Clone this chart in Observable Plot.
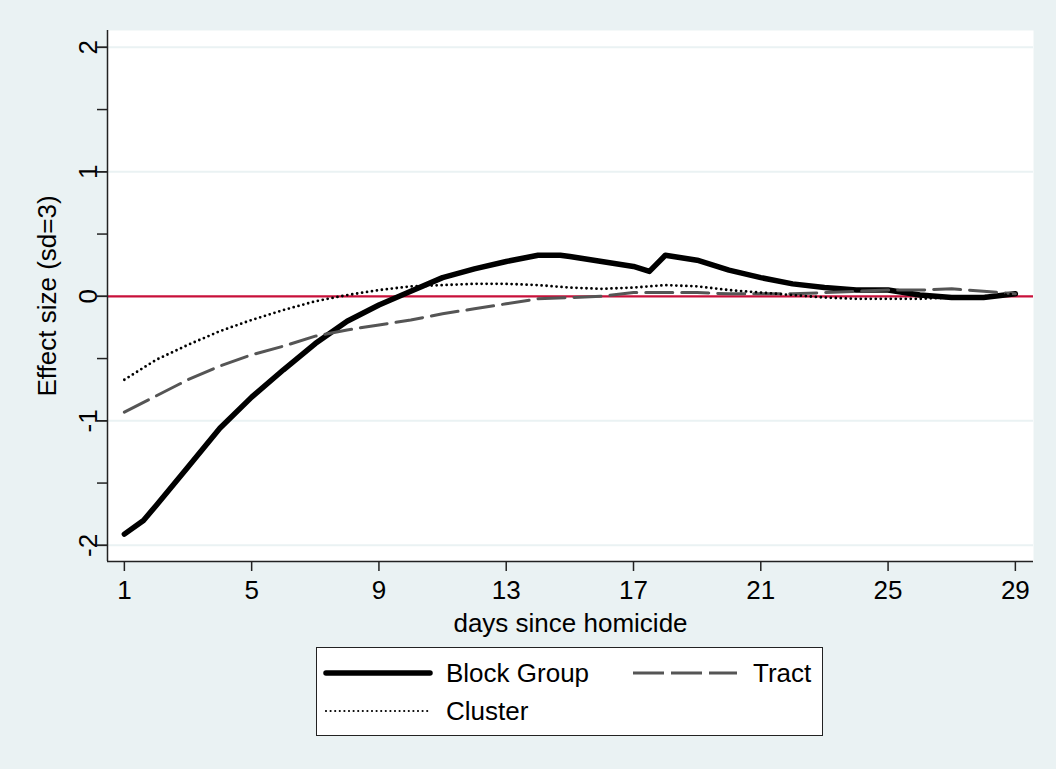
<!DOCTYPE html>
<html>
<head>
<meta charset="utf-8">
<script src="https://cdn.jsdelivr.net/npm/d3@7"></script>
<script src="https://cdn.jsdelivr.net/npm/@observablehq/plot@0.6"></script>
<style>
html, body { margin: 0; padding: 0; background: #EAF2F3; }
body { width: 1056px; height: 769px; position: relative; overflow: hidden; font-family: "Liberation Sans", Arial, sans-serif; }
#chart { position: absolute; left: 0; top: 0; }
#legend { position: absolute; left: 316px; top: 647px; width: 507px; height: 89px; background: #fff; border: 1px solid #222; box-sizing: border-box; }
</style>
</head>
<body>
<div id="chart"></div>
<div id="legend"></div>
<script>
// ---- Data ----
const seriesNames = ["Block Group", "Tract", "Cluster"];

const blockGroupDays = [1, 1.6, 2, 3, 4, 5, 6, 7, 8, 9, 10, 11, 12, 13, 14, 14.7, 15, 16, 17, 17.5, 18, 19, 20, 21, 22, 23, 24, 25, 26, 27, 28, 29];
const blockGroupValues = [-1.91, -1.80, -1.68, -1.37, -1.06, -0.81, -0.59, -0.38, -0.20, -0.07, 0.04, 0.15, 0.22, 0.28, 0.33, 0.33, 0.32, 0.28, 0.24, 0.20, 0.33, 0.29, 0.21, 0.15, 0.10, 0.07, 0.05, 0.05, 0.01, -0.01, -0.01, 0.02];

const tractDays = [1, 2, 3, 4, 5, 6, 7, 8, 9, 10, 11, 12, 13, 14, 15, 16, 17, 18, 19, 20, 21, 22, 23, 24, 25, 26, 27, 28, 29];
const tractValues = [-0.93, -0.80, -0.67, -0.56, -0.47, -0.40, -0.32, -0.27, -0.23, -0.19, -0.14, -0.10, -0.06, -0.02, -0.01, 0.00, 0.03, 0.03, 0.03, 0.02, 0.02, 0.02, 0.03, 0.04, 0.05, 0.05, 0.06, 0.04, 0.02];

const clusterDays = [1, 2, 3, 4, 5, 6, 7, 8, 9, 10, 11, 12, 13, 14, 15, 16, 17, 18, 19, 20, 21, 22, 23, 24, 25, 26, 27, 28, 29];
const clusterValues = [-0.67, -0.51, -0.39, -0.28, -0.19, -0.11, -0.04, 0.01, 0.05, 0.08, 0.09, 0.10, 0.10, 0.09, 0.07, 0.06, 0.07, 0.09, 0.08, 0.05, 0.03, 0.01, -0.01, -0.02, -0.02, -0.02, -0.01, 0.00, 0.02];

const xTicks = [1, 5, 9, 13, 17, 21, 25, 29];
const yMajorTicks = [-2, -1, 0, 1, 2];
const yAllTicks = [-2, -1.5, -1, -0.5, 0, 0.5, 1, 1.5, 2];
const gridTicks = [-2, -1, 1, 2];
const refLine = [0];
const xTitle = "days since homicide";
const yTitle = "Effect size (sd=3)";

// ---- Build tables ----
const blockGroup = blockGroupDays.map((d, i) => ({day: d, value: blockGroupValues[i]}));
const tract = tractDays.map((d, i) => ({day: d, value: tractValues[i]}));
const cluster = clusterDays.map((d, i) => ({day: d, value: clusterValues[i]}));

const FONT = "Liberation Sans, Arial, Helvetica, sans-serif";
const FS = 26;

const chart = Plot.plot({
  width: 1056,
  height: 640,
  marginLeft: 107,
  marginRight: 23,
  marginTop: 30,
  marginBottom: 79,
  x: {domain: [0.47, 29.57]},
  y: {domain: [-2.13, 2.135]},
  style: {background: "transparent", fontFamily: FONT, color: "#000", overflow: "visible"},
  marks: [
    Plot.frame({fill: "white", stroke: null}),
    Plot.ruleY(gridTicks, {stroke: "#EAF2F3", strokeWidth: 2}),
    Plot.ruleY(refLine, {stroke: "#c8103a", strokeWidth: 2.2}),
    Plot.line(blockGroup, {x: "day", y: "value", stroke: "#000", strokeWidth: 5.5, strokeLinejoin: "round", strokeLinecap: "round"}),
    Plot.line(tract, {x: "day", y: "value", stroke: "#555", strokeWidth: 3, strokeDasharray: "27,9"}),
    Plot.line(cluster, {x: "day", y: "value", stroke: "#000", strokeWidth: 2.8, strokeDasharray: "0,5", strokeLinecap: "round"}),
    Plot.ruleX([0.47], {stroke: "#222", strokeWidth: 1.5}),
    Plot.ruleY([-2.13], {stroke: "#222", strokeWidth: 1.5}),
    Plot.axisY({ticks: yAllTicks, tickSize: 10, tickFormat: () => "", label: null, stroke: "#222", strokeWidth: 1.5}),
    Plot.axisY({ticks: yMajorTicks, tickSize: 10, tickRotate: -90, tickPadding: 1, tickFormat: d => String(d), fontSize: FS, label: null, stroke: "#222", strokeWidth: 1.5, fill: "#000"}),
    Plot.axisX({ticks: xTicks, tickSize: 10, tickPadding: 9, tickFormat: d => String(d), fontSize: FS, label: null, stroke: "#222", strokeWidth: 1.5, fill: "#000"}),
    Plot.text([xTitle], {frameAnchor: "bottom", lineAnchor: "middle", dy: 62, fontSize: FS, fill: "#000"}),
    Plot.text([yTitle], {frameAnchor: "left", textAnchor: "middle", dx: -60, rotate: -90, fontSize: FS, fill: "#000"})
  ]
});
document.getElementById("chart").appendChild(chart);

// ---- Legend ----
const legendItems = [
  {name: seriesNames[0], x: 9, y: 25, stroke: "#000", width: 5.5, dash: null, cap: "round"},
  {name: seriesNames[1], x: 316, y: 25, stroke: "#555", width: 3, dash: "31,7", cap: "butt"},
  {name: seriesNames[2], x: 9, y: 63, stroke: "#000", width: 2.2, dash: "0,4.6", cap: "round"}
];
const svg = d3.select("#legend").append("svg")
  .attr("width", 505).attr("height", 87)
  .style("display", "block")
  .style("font-family", FONT);
for (const it of legendItems) {
  svg.append("line")
    .attr("x1", it.x).attr("x2", it.x + 104)
    .attr("y1", it.y).attr("y2", it.y)
    .attr("stroke", it.stroke).attr("stroke-width", it.width)
    .attr("stroke-linecap", it.cap)
    .attr("stroke-dasharray", it.dash);
  svg.append("text")
    .attr("x", it.x + 120).attr("y", it.y)
    .attr("dy", "0.35em")
    .attr("font-size", FS)
    .attr("fill", "#000")
    .text(it.name);
}
</script>
</body>
</html>
